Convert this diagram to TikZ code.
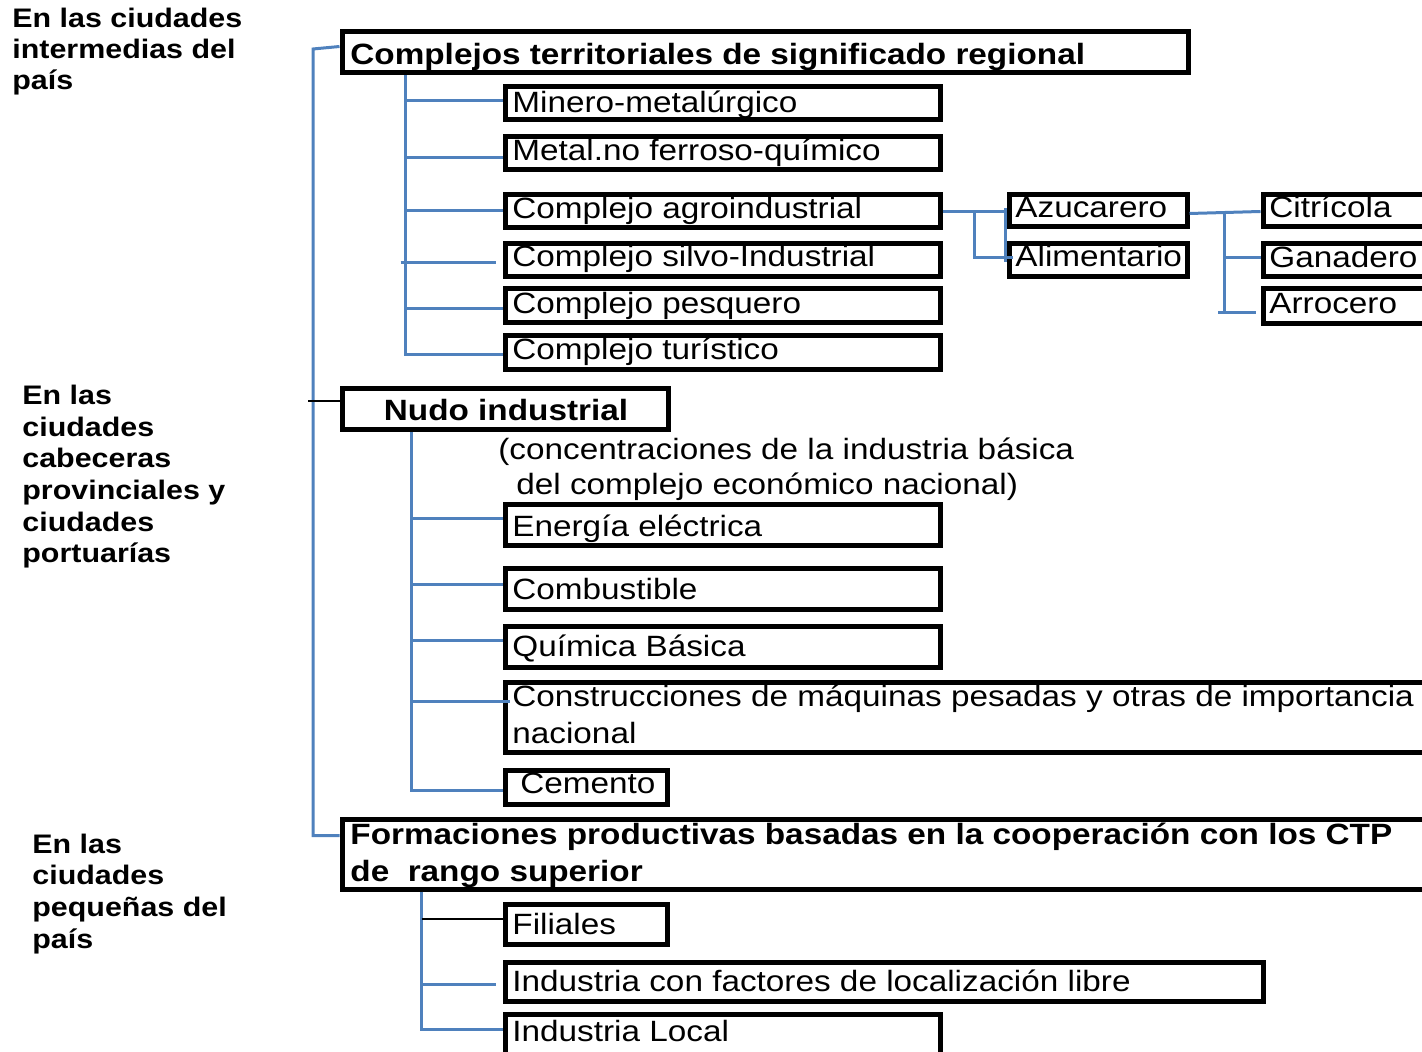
\documentclass[tikz,border=0pt]{standalone}
\usepackage{fontspec}
\setmainfont{Liberation Sans}[FakeStretch=1.135]
\usetikzlibrary{fit,calc}
\definecolor{linkblue}{HTML}{4F81BD}
\tikzset{
  frame/.style={draw=black, line width=2.5pt, inner sep=0pt},
  conn/.style={draw=linkblue, line width=1.5pt},
  stub/.style={draw=black, line width=1pt},
  itemtxt/.style={inner sep=0pt, anchor=base west, yshift=-0.75pt, font=\fontsize{14.67pt}{18pt}\selectfont},
  headtxt/.style={inner sep=0pt, anchor=base west, yshift=-0.75pt, font=\fontsize{14.67pt}{18pt}\selectfont\bfseries},
  sidetxt/.style={inner sep=0pt, anchor=base west, font=\fontsize{13.4pt}{16pt}\selectfont\bfseries},
}
% a framed box between two corners (pixel grid, y downwards)
\newcommand\frameat[5]{\node[frame, fit={(#2,#3) (#4,#5)}] (#1) {};}
\begin{document}
\begin{tikzpicture}[x=0.5pt,y=-0.5pt]
\useasboundingbox (0,0) rectangle (1422,1052);
\clip (0,0) rectangle (1422,1052);

% ---- boxes ----
\frameat{ctr}{342}{32}{1188}{73}
\frameat{minero}{505}{87}{940}{120}
\frameat{metal}{505}{137}{940}{170}
\frameat{agro}{505}{195}{940}{228}
\frameat{silvo}{505}{244}{940}{277}
\frameat{pesq}{505}{289}{940}{323}
\frameat{tur}{505}{336}{940}{370}
\frameat{azuc}{1009}{195}{1187}{227}
\frameat{alim}{1009}{244}{1187}{277}
\frameat{citr}{1263}{195}{1440}{227}
\frameat{gan}{1263}{244}{1440}{277}
\frameat{arroc}{1263}{289}{1440}{324}
\frameat{nudo}{342}{389}{668}{430}
\frameat{energ}{505}{505}{940}{546}
\frameat{comb}{505}{568}{940}{609}
\frameat{quim}{505}{626}{940}{667}
\frameat{constr}{505}{682}{1440}{752}
\frameat{cem}{505}{770}{667}{804}
\frameat{form}{342}{819}{1440}{889}
\frameat{fil}{505}{904}{667}{944}
\frameat{ind}{505}{962}{1263}{1001}
\frameat{loc}{505}{1014}{940}{1070}

% main left bracket
\coordinate (tA) at (313,49);
\draw[conn] ($(ctr.north west)+(0,17)$) -- (tA) |- ($(form.north west)+(0,19)$);
\draw[stub] ($(nudo.north west)+(0,15)$) -- ++(-32,0);

% branches of the territorial complexes
\coordinate (k1) at ($(ctr.south west)+(66,0)$);
\draw[conn] (k1) |- ($(tur.north west)+(0,21)$);
\foreach \b/\dy in {minero/16, metal/23, agro/18, pesq/22}{
  \path ($(\b.north west)+(0,\dy)$) coordinate (e\b);
  \draw[conn] (k1 |- e\b) -- (e\b);
}
\path ($(silvo.north west)+(0,21)$) coordinate (esilvo);
\draw[conn] ($(k1 |- esilvo)+(-5,0)$) -- ($(esilvo)+(-7,0)$);

% agro-industrial sub-branches
\path ($(agro.north east)+(0,19)$) coordinate (ag);
\path ($(azuc.north west)+(0,19)$) coordinate (az);
\draw[conn] (ag) -- (az);
\coordinate (fk1) at ($(ag)!0.5!(az)$);
\draw[conn] (fk1) |- ($(alim.north west)+(6,16)$);
\draw[conn] ($(azuc.north west)+(-1,16)$) -- ($(alim.north west)+(-1,21)$);

\path ($(azuc.north east)+(0,21)$) coordinate (zr);
\path ($(citr.north west)+(0,19)$) coordinate (cl);
\draw[conn] (zr) -- (cl);
\coordinate (fk2) at ($(zr)!0.49!(cl)$);
\path ($(gan.north west)+(0,16)$) coordinate (egan);
\path ($(arroc.north west)+(-5,26)$) coordinate (earr);
\draw[conn] (fk2) -- (fk2 |- earr);
\draw[conn] ($(fk2 |- earr)+(-6,0)$) -- (earr);
\draw[conn] (fk2 |- egan) -- (egan);

% branches of the industrial node
\coordinate (k2) at ($(nudo.south west)+(72,0)$);
\draw[conn] (k2) |- ($(cem.north west)+(0,23)$);
\foreach \b/\dy/\dx in {energ/16/0, comb/19/0, quim/17/0, constr/22/7}{
  \path ($(\b.north west)+(\dx,\dy)$) coordinate (e\b);
  \draw[conn] (k2 |- e\b) -- (e\b);
}

% branches of the productive formations
\coordinate (k3) at ($(form.south west)+(82,0)$);
\draw[conn] (k3) |- ($(loc.north west)+(0,18)$);
\path ($(fil.north west)+(0,17)$) coordinate (efil);
\draw[stub] (k3 |- efil) -- (efil);
\path ($(ind.north west)+(-7,25)$) coordinate (eind);
\draw[conn] (k3 |- eind) -- (eind);

% ---- texts ----
\node[headtxt] (tctr) at (350,63) {Complejos territoriales de significado regional};
\node[itemtxt] (tminero) at (512,111) {Minero-metalúrgico};
\node[itemtxt] (tmetal) at (512,159) {Metal.no ferroso-químico};
\node[itemtxt] (tagro) at (512,217) {Complejo agroindustrial};
\node[itemtxt] (tsilvo) at (512,265) {Complejo silvo-Industrial};
\node[itemtxt] (tpesq) at (512,312) {Complejo pesquero};
\node[itemtxt] (ttur) at (512,358) {Complejo turístico};
\node[itemtxt] (tazuc) at (1015,216) {Azucarero};
\node[itemtxt] (talim) at (1015,265) {Alimentario};
\node[itemtxt] (tcitr) at (1269,216) {Citrícola};
\node[itemtxt] (tgan) at (1269,266) {Ganadero};
\node[itemtxt] (tarroc) at (1269,312) {Arrocero};

\node[headtxt, anchor=base] (tnudo) at (506,419) {Nudo industrial};
\node[itemtxt] (tconc1) at (498,458) {(concentraciones de la industria básica};
\node[itemtxt] (tconc2) at (516,493) {del complejo económico nacional)};
\node[itemtxt] (tenerg) at (512,535) {Energía eléctrica};
\node[itemtxt] (tcomb) at (512,598) {Combustible};
\node[itemtxt] (tquim) at (512,655) {Química Básica};
\node[itemtxt] (tconstr1) at (512,705) {Construcciones de máquinas pesadas y otras de importancia};
\node[itemtxt] (tconstr2) at (512,742) {nacional};
\node[itemtxt] (tcem) at (520,792) {Cemento};

\node[headtxt] (tform1) at (350,843) {Formaciones productivas basadas en la cooperación con los CTP};
\node[headtxt] (tform2) at (350,880) {de\ \ rango superior};
\node[itemtxt] (tfil) at (512,933) {Filiales};
\node[itemtxt] (tind) at (512,990) {Industria con factores de localización libre};
\node[itemtxt] (tloc) at (512,1040) {Industria Local};

% side captions
\foreach \t [count=\i from 0] in {En las ciudades, intermedias del, país}
  \node[sidetxt] (sa\i) at (12,28+31*\i) {\t};
\foreach \t [count=\i from 0] in {En las, ciudades, cabeceras, provinciales y, ciudades, portuarías}
  \node[sidetxt] (sb\i) at (22,405+31.5*\i) {\t};
\foreach \t [count=\i from 0] in {En las, ciudades, pequeñas del, país}
  \node[sidetxt] (sc\i) at (32,853+31.7*\i) {\t};
\end{tikzpicture}
\end{document}
